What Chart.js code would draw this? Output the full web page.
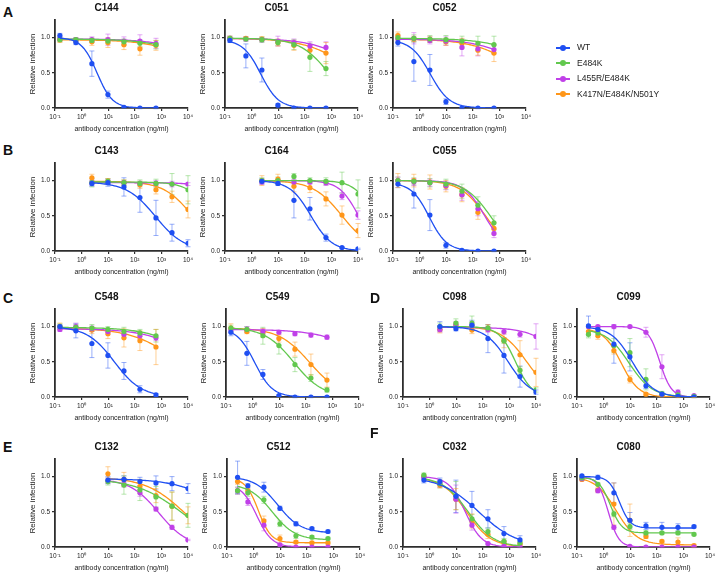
<!DOCTYPE html>
<html>
<head>
<meta charset="utf-8">
<script src="https://cdn.jsdelivr.net/npm/chart.js@4"></script>
<style>
body { margin: 0; background: #fff; font-family: "Liberation Sans", Arial, sans-serif; }
#fig { position: relative; width: 720px; height: 574px; overflow: hidden; background: #fff; }
#fig canvas { position: absolute; }
.letter { position: absolute; font-weight: bold; font-size: 14px; line-height: 14px; color: #111; }
.leg { position: absolute; left: 556px; font-size: 8.5px; line-height: 10px; color: #222; white-space: nowrap; }
.leg i { display: inline-block; position: relative; width: 14px; height: 1.6px; vertical-align: middle; margin-right: 7px; }
.leg i b { position: absolute; left: 4px; top: -2.2px; width: 6px; height: 6px; border-radius: 50%; }
</style>
</head>
<body>
<div id="fig"></div>
<script>
const series = ['WT', 'E484K', 'L455R/E484K', 'K417N/E484K/N501Y']
const colors = ['#1f4ff2', '#62c84e', '#c040e8', '#ff9619']
const barColors = ['rgba(31,79,242,0.45)', 'rgba(98,200,78,0.45)', 'rgba(192,64,232,0.45)', 'rgba(255,150,25,0.45)']

// 4-fold dilutions (ng/ml)
const doses = [0.153, 0.61, 2.44, 9.77, 39.1, 156, 625, 2500, 10000]
const xTickValues = [0.1, 1, 10, 100, 1000, 10000]
const xTickLabels = ['10⁻¹', '10⁰', '10¹', '10²', '10³', '10⁴']
const yTickValues = [0, 0.5, 1]

// each panel: mean, error, fit [top, bottom, IC50, hill] for WT, E484K, L455R/E484K, K417N/E484K/N501Y
const C144_x = doses.slice(0, 7)
const C144_y = [[1.03, 0.93, 0.63, 0.19, 0.01, 0.0, 0.0], [0.97, 0.97, 0.96, 0.95, 0.94, 0.92, 0.90], [0.98, 0.97, 0.97, 0.97, 0.95, 0.95, 0.92], [0.97, 0.96, 0.94, 0.93, 0.90, 0.84, 0.89]]
const C144_err = [[0.03, 0.03, 0.18, 0.05, 0.01, 0.01, 0.01], [0.03, 0.03, 0.03, 0.04, 0.04, 0.05, 0.06], [0.03, 0.03, 0.04, 0.08, 0.06, 0.09, 0.07], [0.04, 0.03, 0.05, 0.07, 0.07, 0.09, 0.07]]
const C144_fit = [[1.0, 0, 3.8, 1.5], [0.98, 0, 79000, 0.5], [0.98, 0, 150000, 0.5], [0.97, 0, 60000, 0.5]]

const C051_x = doses.slice(0, 7)
const C051_y = [[0.96, 0.74, 0.54, 0.04, 0.0, 0.0, 0.0], [0.99, 0.98, 0.97, 0.93, 0.90, 0.72, 0.56], [0.99, 0.98, 0.97, 0.95, 0.93, 0.88, 0.86], [0.99, 0.99, 0.98, 0.93, 0.89, 0.82, 0.78]]
const C051_err = [[0.03, 0.17, 0.17, 0.02, 0.01, 0.01, 0.01], [0.03, 0.03, 0.04, 0.04, 0.07, 0.2, 0.1], [0.03, 0.03, 0.03, 0.07, 0.05, 0.06, 0.08], [0.03, 0.02, 0.03, 0.05, 0.07, 0.07, 0.15]]
const C051_fit = [[0.97, 0, 2.2, 1.3], [0.99, 0, 800, 0.8], [0.99, 0, 20000, 0.5], [0.99, 0, 8570, 0.5]]

const C052_x = doses.slice(0, 7)
const C052_y = [[0.93, 0.66, 0.54, 0.09, 0.0, 0.0, 0.0], [1.0, 0.99, 0.98, 0.97, 0.95, 0.92, 0.90], [0.98, 0.99, 0.96, 0.95, 0.86, 0.84, 0.83], [1.03, 0.98, 0.97, 0.94, 0.92, 0.82, 0.78]]
const C052_err = [[0.05, 0.28, 0.22, 0.04, 0.01, 0.01, 0.01], [0.05, 0.05, 0.05, 0.06, 0.07, 0.1, 0.12], [0.05, 0.08, 0.05, 0.06, 0.12, 0.1, 0.06], [0.05, 0.04, 0.04, 0.05, 0.07, 0.07, 0.12]]
const C052_fit = [[0.97, 0, 2.5, 1.2], [0.99, 0, 62500, 0.5], [0.98, 0, 19000, 0.5], [0.98, 0, 9500, 0.5]]

const C143_x = doses.slice(2, 9)
const C143_y = [[0.96, 0.97, 0.91, 0.76, 0.47, 0.26, 0.11], [0.97, 0.99, 0.97, 0.96, 0.96, 0.95, 0.87], [0.97, 0.98, 0.97, 0.96, 0.96, 0.95, 0.95], [1.04, 0.99, 0.97, 0.94, 0.87, 0.77, 0.59]]
const C143_err = [[0.04, 0.05, 0.13, 0.21, 0.25, 0.12, 0.05], [0.06, 0.04, 0.04, 0.05, 0.06, 0.15, 0.2], [0.04, 0.03, 0.03, 0.03, 0.04, 0.04, 0.02], [0.05, 0.04, 0.04, 0.05, 0.06, 0.08, 0.12]]
const C143_fit = [[0.98, 0, 600, 0.8], [0.98, 0, 80000, 1], [0.97, 0, 500000, 1], [0.99, 0, 15000, 0.8]]

const C164_x = doses.slice(2, 9)
const C164_y = [[0.99, 0.96, 0.72, 0.60, 0.19, 0.05, 0.03], [1.0, 1.0, 1.06, 1.0, 0.99, 0.97, 0.81], [0.98, 0.99, 0.98, 0.98, 0.97, 0.78, 0.51], [1.0, 1.02, 0.92, 0.90, 0.74, 0.51, 0.29]]
const C164_err = [[0.04, 0.03, 0.25, 0.16, 0.05, 0.01, 0.01], [0.04, 0.05, 0.04, 0.04, 0.05, 0.15, 0.2], [0.03, 0.03, 0.03, 0.03, 0.04, 0.05, 0.06], [0.07, 0.07, 0.08, 0.07, 0.1, 0.13, 0.1]]
const C164_fit = [[1.0, 0, 170, 1.1], [1.0, 0, 40000, 1.2], [1.0, 0, 10500, 1.2], [1.0, 0, 2500, 0.8]]

const C055_x = doses.slice(0, 7)
const C055_y = [[0.95, 0.81, 0.51, 0.08, 0.01, 0.0, 0.0], [1.0, 0.99, 0.97, 0.95, 0.85, 0.65, 0.40], [1.0, 0.98, 0.97, 0.93, 0.80, 0.60, 0.25], [1.0, 1.0, 0.98, 0.92, 0.80, 0.55, 0.32]]
const C055_err = [[0.05, 0.2, 0.22, 0.04, 0.01, 0.01, 0.01], [0.05, 0.05, 0.06, 0.07, 0.1, 0.12, 0.1], [0.05, 0.05, 0.05, 0.06, 0.08, 0.1, 0.06], [0.1, 0.09, 0.1, 0.08, 0.1, 0.1, 0.08]]
const C055_fit = [[0.97, 0, 2.3, 1.3], [1.0, 0, 450, 0.9], [1.0, 0, 280, 1.1], [1.0, 0, 300, 0.9]]

const C548_x = doses.slice(0, 7)
const C548_y = [[1.0, 0.94, 0.76, 0.59, 0.37, 0.11, 0.03], [1.0, 0.99, 0.98, 0.96, 0.93, 0.91, 0.87], [0.96, 1.0, 0.97, 0.93, 0.89, 0.87, 0.84], [1.0, 0.97, 0.95, 0.90, 0.84, 0.80, 0.71]]
const C548_err = [[0.03, 0.1, 0.2, 0.18, 0.12, 0.05, 0.02], [0.04, 0.04, 0.05, 0.04, 0.06, 0.05, 0.09], [0.03, 0.05, 0.04, 0.04, 0.05, 0.04, 0.04], [0.05, 0.04, 0.05, 0.07, 0.13, 0.14, 0.25]]
const C548_fit = [[1.0, 0, 17, 0.85], [0.99, 0, 33000, 0.5], [0.97, 0, 26000, 0.5], [0.98, 0, 4800, 0.5]]

const C549_x = doses.slice(0, 7)
const C549_y = [[0.92, 0.62, 0.32, 0.02, 0.0, 0.0, 0.0], [0.98, 0.96, 0.87, 0.73, 0.46, 0.27, 0.10], [0.95, 0.96, 0.93, 0.92, 0.90, 0.88, 0.85], [0.98, 0.93, 0.91, 0.83, 0.68, 0.46, 0.24]]
const C549_err = [[0.05, 0.17, 0.07, 0.01, 0.01, 0.01, 0.01], [0.04, 0.04, 0.12, 0.12, 0.1, 0.05, 0.03], [0.03, 0.04, 0.04, 0.03, 0.03, 0.03, 0.03], [0.06, 0.03, 0.06, 0.05, 0.1, 0.15, 0.1]]
const C549_fit = [[0.98, 0, 1.2, 1.3], [0.99, 0, 35, 0.8], [0.96, 0, 37000, 0.5], [0.98, 0, 140, 0.75]]

const C098_x = doses.slice(2, 9)
const C098_y = [[1.0, 0.97, 1.02, 0.83, 0.59, 0.29, 0.07], [1.0, 1.05, 1.05, 0.98, 0.80, 0.38, 0.10], [0.96, 1.03, 1.02, 0.96, 0.93, 0.89, 0.86], [0.96, 1.02, 0.95, 0.98, 0.80, 0.60, 0.35]]
const C098_err = [[0.07, 0.03, 0.07, 0.2, 0.25, 0.15, 0.03], [0.05, 0.06, 0.1, 0.04, 0.04, 0.05, 0.03], [0.04, 0.04, 0.05, 0.04, 0.04, 0.04, 0.18], [0.05, 0.04, 0.05, 0.05, 0.1, 0.2, 0.2]]
const C098_fit = [[1.0, 0, 900, 1.0], [1.0, 0, 1700, 1.4], [0.99, 0, 150000, 0.7], [1.0, 0, 4500, 0.9]]

const C099_x = [0.27, 0.61, 2.44, 9.77, 39.1, 156, 625, 2500]
const C099_y = [[1.01, 0.96, 0.75, 0.57, 0.16, 0.04, 0.01, 0.0], [0.89, 0.91, 0.73, 0.63, 0.25, 0.05, 0.03, 0.01], [1.0, 1.0, 1.0, 1.0, 0.92, 0.43, 0.07, 0.02], [0.93, 0.87, 0.66, 0.25, 0.04, 0.01, 0.0, 0.0]]
const C099_err = [[0.14, 0.03, 0.27, 0.2, 0.04, 0.02, 0.01, 0.01], [0.05, 0.05, 0.1, 0.2, 0.15, 0.03, 0.02, 0.01], [0.02, 0.02, 0.03, 0.02, 0.07, 0.17, 0.03, 0.01], [0.05, 0.05, 0.05, 0.05, 0.02, 0.01, 0.01, 0.01]]
const C099_fit = [[1.0, 0, 12, 1.1], [0.97, 0, 9, 1.0], [1.0, 0, 130, 2.0], [0.98, 0, 4.5, 1.3]]

const C132_x = doses.slice(3, 9)
const C132_y = [[0.95, 0.96, 0.93, 0.91, 0.90, 0.83], [0.93, 0.88, 0.81, 0.71, 0.58, 0.45], [0.94, 0.89, 0.77, 0.54, 0.28, 0.10], [1.04, 0.96, 0.86, 0.73, 0.58, 0.45]]
const C132_err = [[0.05, 0.05, 0.06, 0.1, 0.1, 0.07], [0.05, 0.13, 0.15, 0.15, 0.2, 0.17], [0.04, 0.04, 0.05, 0.03, 0.03, 0.01], [0.1, 0.1, 0.1, 0.1, 0.2, 0.12]]
const C132_fit = [[0.97, 0, 350000, 0.5], [0.97, 0, 6000, 0.5], [0.97, 0, 800, 0.8], [0.99, 0, 7000, 0.6]]

const C512_x = [0.25, 0.61, 2.44, 9.77, 39.1, 156, 625]
const C512_y = [[0.99, 0.87, 0.85, 0.55, 0.33, 0.26, 0.22], [0.80, 0.77, 0.67, 0.33, 0.16, 0.14, 0.12], [0.80, 0.64, 0.31, 0.03, 0.0, 0.0, 0.0], [0.93, 0.80, 0.37, 0.12, 0.07, 0.06, 0.06]]
const C512_err = [[0.23, 0.03, 0.07, 0.03, 0.03, 0.02, 0.02], [0.05, 0.05, 0.05, 0.04, 0.04, 0.02, 0.02], [0.05, 0.05, 0.08, 0.02, 0.01, 0.01, 0.01], [0.04, 0.04, 0.07, 0.05, 0.02, 0.02, 0.02]]
const C512_fit = [[1.0, 0.2, 8, 1.0], [0.9, 0.1, 5, 1.0], [0.9, 0, 1.3, 1.5], [0.98, 0.06, 1.5, 1.8]]

const C032_x = doses.slice(1, 8)
const C032_y = [[0.95, 0.93, 0.72, 0.59, 0.40, 0.19, 0.10], [1.02, 0.90, 0.73, 0.40, 0.22, 0.08, 0.06], [0.99, 0.90, 0.68, 0.31, 0.05, 0.01, 0.0], [1.0, 0.88, 0.68, 0.37, 0.18, 0.07, 0.04]]
const C032_err = [[0.04, 0.05, 0.23, 0.2, 0.13, 0.1, 0.06], [0.03, 0.06, 0.2, 0.06, 0.05, 0.04, 0.02], [0.02, 0.05, 0.2, 0.07, 0.02, 0.01, 0.01], [0.03, 0.04, 0.15, 0.1, 0.06, 0.03, 0.02]]
const C032_fit = [[1.0, 0, 70, 0.6], [1.0, 0, 28, 0.9], [1.0, 0, 22, 1.4], [0.99, 0, 25, 0.95]]

const C080_x = doses.slice(0, 8)
const C080_y = [[1.01, 0.99, 0.77, 0.38, 0.30, 0.28, 0.28, 0.29], [0.98, 0.89, 0.47, 0.29, 0.20, 0.20, 0.20, 0.18], [0.97, 0.80, 0.28, 0.01, 0.0, 0.0, 0.0, 0.0], [0.96, 0.81, 0.61, 0.38, 0.15, 0.08, 0.07, 0.02]]
const C080_err = [[0.01, 0.03, 0.14, 0.11, 0.05, 0.07, 0.05, 0.02], [0.02, 0.02, 0.04, 0.04, 0.03, 0.02, 0.02, 0.02], [0.02, 0.03, 0.03, 0.01, 0.01, 0.01, 0.01, 0.01], [0.02, 0.03, 0.3, 0.23, 0.03, 0.02, 0.06, 0.02]]
const C080_fit = [[1.0, 0.27, 4, 2.2], [0.99, 0.2, 1.8, 2.0], [1.0, 0, 1.5, 2.2], [1.0, 0.03, 3, 1.1]]

let panels = [
    {name: 'C144', x: C144_x, y: C144_y, err: C144_err, fit: C144_fit},
    {name: 'C051', x: C051_x, y: C051_y, err: C051_err, fit: C051_fit},
    {name: 'C052', x: C052_x, y: C052_y, err: C052_err, fit: C052_fit},
    {name: 'C143', x: C143_x, y: C143_y, err: C143_err, fit: C143_fit},
    {name: 'C164', x: C164_x, y: C164_y, err: C164_err, fit: C164_fit},
    {name: 'C055', x: C055_x, y: C055_y, err: C055_err, fit: C055_fit},
    {name: 'C548', x: C548_x, y: C548_y, err: C548_err, fit: C548_fit},
    {name: 'C549', x: C549_x, y: C549_y, err: C549_err, fit: C549_fit},
    {name: 'C098', x: C098_x, y: C098_y, err: C098_err, fit: C098_fit},
    {name: 'C099', x: C099_x, y: C099_y, err: C099_err, fit: C099_fit},
    {name: 'C132', x: C132_x, y: C132_y, err: C132_err, fit: C132_fit},
    {name: 'C512', x: C512_x, y: C512_y, err: C512_err, fit: C512_fit},
    {name: 'C032', x: C032_x, y: C032_y, err: C032_err, fit: C032_fit},
    {name: 'C080', x: C080_x, y: C080_y, err: C080_err, fit: C080_fit}
]

// page layout: pixel of the y axis line and of y = 0 for each panel
let panelPos = [
    [55, 108], [225, 108], [393, 108],
    [55, 251], [225, 251], [393, 251],
    [55, 397], [226, 397], [403, 397], [577, 397],
    [55, 547], [227, 547], [403, 547], [577, 547]
]
let letters = [['A', 3, 5], ['B', 3, 143], ['C', 3, 291], ['D', 370, 291], ['E', 3, 440], ['F', 370, 426]]

const fig = document.getElementById('fig')
Chart.defaults.font.family = '"Liberation Sans", Arial, sans-serif'
Chart.defaults.color = '#222'

// fitted 4-parameter logistic curve across the dose range
let curve = (xs, p) => {
    let pts = []
    let a = Math.log10(xs[0]), b = Math.log10(xs[xs.length - 1])
    for (let k = 0; k <= 60; k++) {
        let x = Math.pow(10, a + (b - a) * k / 60)
        pts.push({x: x, y: p[1] + (p[0] - p[1]) / (1 + Math.pow(x / p[2], p[3]))})
    }
    return pts
}

let errorBars = {
    id: 'errorBars',
    beforeDatasetsDraw(chart) {
        let ctx = chart.ctx
        let ys = chart.scales.y
        chart.data.datasets.forEach((ds, i) => {
            if (!ds.errors) return
            let meta = chart.getDatasetMeta(i)
            ctx.save()
            ctx.strokeStyle = ds.errorColor
            ctx.lineWidth = 1
            meta.data.forEach((pt, j) => {
                let v = ds.data[j].y, e = ds.errors[j]
                let t = ys.getPixelForValue(v + e), b = ys.getPixelForValue(v - e)
                ctx.beginPath()
                ctx.moveTo(pt.x, t); ctx.lineTo(pt.x, b)
                ctx.moveTo(pt.x - 2.5, t); ctx.lineTo(pt.x + 2.5, t)
                ctx.moveTo(pt.x - 2.5, b); ctx.lineTo(pt.x + 2.5, b)
                ctx.stroke()
            })
            ctx.restore()
        })
    }
}

let makePanel = (p, pos) => {
    let cv = document.createElement('canvas')
    cv.width = 193
    cv.height = 136
    cv.style.left = (pos[0] - 30) + 'px'
    cv.style.top = (pos[1] - 110) + 'px'
    fig.appendChild(cv)

    let datasets = []
    series.forEach((s, i) => {
        datasets.push({
            type: 'scatter', label: s,
            data: p.x.map((x, j) => ({x: x, y: p.y[i][j]})),
            errors: p.err[i], errorColor: barColors[i],
            backgroundColor: colors[i], pointRadius: 2.6, borderWidth: 0, order: i * 2
        })
        datasets.push({
            type: 'line', label: s + ' fit',
            data: curve(p.x, p.fit[i]),
            borderColor: colors[i], borderWidth: 1.3, pointRadius: 0, fill: false, order: i * 2 + 1
        })
    })

    let axisLine = {display: true, color: '#2e2e2e', width: 1.8}
    let tickMarks = {display: true, drawOnChartArea: false, drawTicks: true, tickLength: 3, color: '#2e2e2e', lineWidth: 1.2}

    new Chart(cv, {
        type: 'scatter',
        data: {datasets: datasets},
        plugins: [errorBars],
        options: {
            responsive: false,
            animation: false,
            devicePixelRatio: 1,
            events: [],
            layout: {padding: {left: 0, top: 0, right: 30, bottom: 0}},
            plugins: {
                legend: {display: false},
                tooltip: {enabled: false},
                title: {display: true, text: p.name, color: '#111', font: {size: 10, weight: 'bold'}, padding: {top: 4, bottom: 6}}
            },
            scales: {
                x: {
                    type: 'logarithmic', min: 0.1, max: 10000,
                    border: axisLine, grid: tickMarks,
                    afterBuildTicks: (axis) => { axis.ticks = xTickValues.map(v => ({value: v})) },
                    afterFit: (axis) => { axis.height = 26 },
                    ticks: {autoSkip: false, maxRotation: 0, padding: 2, font: {size: 6.5}, color: '#222',
                        callback: (v, i) => xTickLabels[i]},
                    title: {display: true, text: 'antibody concentration (ng/ml)', font: {size: 7}, color: '#222', padding: {top: 0, bottom: 1}}
                },
                y: {
                    type: 'linear', min: 0, max: 1.25,
                    border: axisLine, grid: tickMarks,
                    afterBuildTicks: (axis) => { axis.ticks = yTickValues.map(v => ({value: v})) },
                    afterFit: (axis) => { axis.width = 30 },
                    ticks: {padding: 2, font: {size: 6.5}, color: '#222', callback: (v) => v.toFixed(1)},
                    title: {display: true, text: 'Relative infection', font: {size: 8}, color: '#222', padding: {top: 3, bottom: 0}}
                }
            }
        }
    })
}

panels.forEach((p, i) => makePanel(p, panelPos[i]))

letters.forEach(l => {
    let d = document.createElement('div')
    d.className = 'letter'
    d.textContent = l[0]
    d.style.left = l[1] + 'px'
    d.style.top = l[2] + 'px'
    fig.appendChild(d)
})

series.forEach((s, i) => {
    let d = document.createElement('div')
    d.className = 'leg'
    d.style.top = (42 + i * 15.5) + 'px'
    d.innerHTML = '<i style="background:' + colors[i] + '"><b style="background:' + colors[i] + '"></b></i>' + s
    fig.appendChild(d)
})
</script>
</body>
</html>
